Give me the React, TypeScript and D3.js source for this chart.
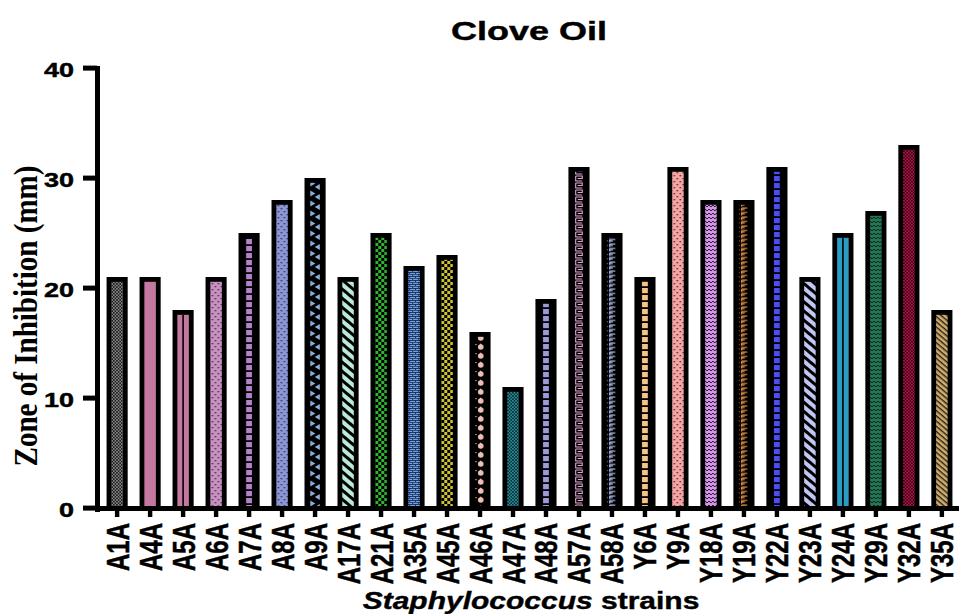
import React from "react";
import * as d3 from "d3";

const categories = ["A1A","A4A","A5A","A6A","A7A","A8A","A9A","A17A","A21A","A35A","A45A","A46A","A47A","A48A","A57A","A58A","Y6A","Y9A","Y18A","Y19A","Y22A","Y23A","Y24A","Y29A","Y32A","Y35A"];
const values = [21,21,18,21,25,28,30,21,25,22,23,16,11,19,31,25,21,31,28,28,31,21,25,27,33,18];
const yTicks = [0,10,20,30,40];
const title = "Clove Oil";
const yLabel = "Zone of Inhibition (mm)";

// pattern kind + colours per bar (style only)
const barKinds = ["checker","solid","split","dots","squares","dots","triangles","stripes","checker","brick","checker","drops","checker","squares","meander","fshape","squares","dots","wave","fshape","squares","stripes","split","wave","checker","hatch"];
const barColors = ["#858585","#c4779f","#c4779f","#c98fc2","#b383c9","#8c95d8","#8fb0dc","#b9eadb","#2db82d","#6fa3e8","#cfc232","#eec0b0","#2a8f98","#9c9ad8","#e8a8d8","#b8c4f4","#f7c387","#f5a3a3","#d895ee","#f39a4a","#4d4df5","#c3c6f2","#2b9cc4","#1e7a55","#b0174f","#d4ad68"];

const W = 961, H = 614;
const x = d3.scaleBand<string>().domain(categories).range([97, 962]).paddingInner(0.36).paddingOuter(0.29);
const y = d3.scaleLinear().domain([0, 40]).range([508, 68]);
const B = 4.8; // border

function Pattern({ id, kind, color, px }: { id: string; kind: string; color: string; px: number }) {
  const common = { id, patternUnits: "userSpaceOnUse", x: px, y: 0 } as any;
  switch (kind) {
    case "checker": {
      const s = color === "#858585" || color === "#2a8f98" || color === "#b0174f" ? 1.6 : 3;
      const dark = color === "#858585" ? "#1e1e1e" : color === "#2a8f98" ? "#0b2d33" : color === "#b0174f" ? "#3a0012" : "#000";
      return (
        <pattern {...common} width={2 * s} height={2 * s}>
          <rect width={2 * s} height={2 * s} fill={color} />
          <rect width={s} height={s} fill={dark} />
          <rect x={s} y={s} width={s} height={s} fill={dark} />
        </pattern>
      );
    }
    case "dots":
      return (
        <pattern {...common} width={6} height={6}>
          <rect width={6} height={6} fill={color} />
          <rect x={1.5} y={1} width={1.3} height={1.3} fill="#222" />
          <rect x={4.5} y={4} width={1.3} height={1.3} fill="#222" />
        </pattern>
      );
    case "squares":
      return (
        <pattern {...common} width={11.5} height={7}>
          <rect width={11.5} height={7} fill="#000" />
          <rect x={2.8} y={1} width={5.8} height={5.2} fill={color} />
        </pattern>
      );
    case "triangles":
      return (
        <pattern {...common} width={11.5} height={10}>
          <rect width={11.5} height={10} fill="#000" />
          <polygon points="1,0.5 6,3.5 1,6.5" fill={color} />
          <polygon points="10.5,4 5.5,7 10.5,10" fill={color} />
        </pattern>
      );
    case "stripes":
      return (
        <pattern {...common} width={7} height={7} patternTransform="rotate(40)">
          <rect width={7} height={7} fill={color} />
          <rect x={0} y={0} width={7} height={3} fill="#000" />
        </pattern>
      );
    case "hatch":
      return (
        <pattern {...common} width={4} height={4} patternTransform="rotate(40)">
          <rect width={4} height={4} fill={color} />
          <rect width={4} height={1.4} fill="#222" />
        </pattern>
      );
    case "brick":
      return (
        <pattern {...common} width={5.75} height={4}>
          <rect width={5.75} height={4} fill={color} />
          <rect y={0} width={5.75} height={0.9} fill="#1a2a55" />
          <rect x={1} y={0} width={0.9} height={2} fill="#1a2a55" />
          <rect x={4} y={2} width={0.9} height={2} fill="#1a2a55" />
          <rect y={2} width={5.75} height={0.7} fill="#1a2a55" />
        </pattern>
      );
    case "drops":
      return (
        <pattern {...common} width={11.5} height={9}>
          <rect width={11.5} height={9} fill="#000" />
          <circle cx={6.5} cy={5} r={2.8} fill={color} />
          <path d="M6.5,1.3 L4.6,4.5 L8.4,4.5 Z" fill={color} />
          <rect x={1.2} y={2} width={1.2} height={1.2} fill={color} />
        </pattern>
      );
    case "meander":
      return (
        <pattern {...common} width={11.5} height={7}>
          <rect width={11.5} height={7} fill="#000" />
          <path d="M2.5,1 H9 V3.5 H4.5 M2.5,1 V6 H9" stroke={color} strokeWidth={1.1} fill="none" />
        </pattern>
      );
    case "fshape":
      return (
        <pattern {...common} width={11.5} height={4.5}>
          <rect width={11.5} height={4.5} fill="#000" />
          <path d="M3.5,1 H9 M3.5,1 V4 M3.5,2.6 H6.5" stroke={color} strokeWidth={1.1} fill="none" />
          <rect x={0.8} y={2} width={0.9} height={0.9} fill={color} />
        </pattern>
      );
    case "wave":
      return (
        <pattern {...common} width={3.83} height={4}>
          <rect width={3.83} height={4} fill={color} />
          <path d="M0,1 L1.9,3 L3.83,1" stroke="#111" strokeWidth={0.9} fill="none" />
        </pattern>
      );
    default:
      return (
        <pattern {...common} width={4} height={4}>
          <rect width={4} height={4} fill={color} />
        </pattern>
      );
  }
}

const sans = "Liberation Sans, Arial, sans-serif";

export default function App() {
  const bw = x.bandwidth();
  return (
    <svg width={W} height={H} style={{ position: "absolute", left: 0, top: 0, background: "#fff" }}>
      <defs>
        {categories.map((c, i) => (
          <Pattern key={c} id={`p${i}`} kind={barKinds[i]} color={barColors[i]} px={(x(c) as number) + B} />
        ))}
      </defs>
      <rect width={W} height={H} fill="#fff" />
      {/* title */}
      <text transform={`translate(529,40) scale(1,0.72)`} textAnchor="middle" fontFamily={sans} fontWeight="bold" fontSize={36} stroke="#000" strokeWidth={0.6}>{title}</text>
      {/* bars */}
      {categories.map((c, i) => {
        const x0 = x(c) as number;
        const yt = y(values[i]);
        const h = y(0) - yt;
        return (
          <g key={c}>
            <rect x={x0} y={yt} width={bw} height={h} fill="#000" />
            <rect x={x0 + B} y={yt + B} width={bw - 2 * B} height={h - B} fill={`url(#p${i})`} />
            {barKinds[i] === "split" && (
              <rect x={x0 + bw / 2 - 0.8} y={yt + B} width={1.6} height={h - B} fill="#000" />
            )}
          </g>
        );
      })}
      {/* y axis */}
      <rect x={95} y={66} width={5} height={446} fill="#000" />
      {yTicks.map((t) => (
        <g key={t}>
          <rect x={83} y={y(t) - 2.4} width={14} height={5} fill="#000" />
          <text transform={`translate(74,${y(t) + 8.5}) scale(1,0.72)`} textAnchor="end" fontFamily={sans} fontWeight="bold" fontSize={27} stroke="#000" strokeWidth={0.6}>{t}</text>
        </g>
      ))}
      {/* x axis */}
      <rect x={95} y={506} width={864} height={5} fill="#000" />
      {categories.map((c) => {
        const cx = (x(c) as number) + bw / 2;
        return (
          <g key={c}>
            <rect x={cx - 2.2} y={508} width={4.4} height={9} fill="#000" />
            <text transform={`translate(${cx + 11.5},523) rotate(-90) scale(0.75,1)`} textAnchor="end" fontFamily={sans} fontWeight="bold" fontSize={32} stroke="#000" strokeWidth={0.5}>{c}</text>
          </g>
        );
      })}
      {/* y label */}
      <text transform={`translate(37,316) rotate(-90) scale(0.88,1)`} textAnchor="middle" fontFamily="Liberation Serif, Times New Roman, serif" fontWeight="bold" fontSize={33}>{yLabel}</text>
      {/* x label */}
      <text transform={`translate(531,609) scale(1,0.78)`} textAnchor="middle" fontFamily={sans} fontWeight="bold" fontSize={30} stroke="#000" strokeWidth={0.5}>
        <tspan fontStyle="italic">Staphylococcus</tspan>
        <tspan> strains</tspan>
      </text>
    </svg>
  );
}
